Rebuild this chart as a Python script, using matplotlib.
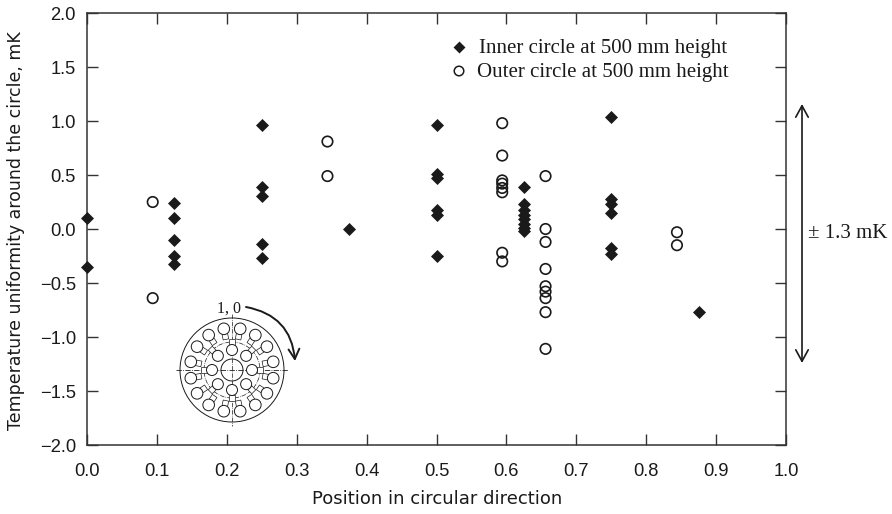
import numpy as np
import matplotlib
matplotlib.use('Agg')
import matplotlib.pyplot as plt
from matplotlib.patches import Circle, FancyArrowPatch, Rectangle
from matplotlib.transforms import Affine2D

# inner circle data
inner_x = [0.0, 0.0,
           0.125, 0.125, 0.125, 0.125, 0.125,
           0.25, 0.25, 0.25, 0.25, 0.25,
           0.375,
           0.5, 0.5, 0.5, 0.5, 0.5, 0.5,
           0.625, 0.625, 0.625, 0.625, 0.625, 0.625, 0.625, 0.625,
           0.75, 0.75, 0.75, 0.75, 0.75, 0.75,
           0.875]
inner_y = [0.10, -0.35,
           0.24, 0.10, -0.10, -0.25, -0.32,
           0.96, 0.39, 0.31, -0.14, -0.27,
           0.0,
           0.96, 0.51, 0.47, 0.18, 0.13, -0.25,
           0.39, 0.23, 0.18, 0.13, 0.09, 0.05, 0.01, -0.02,
           1.04, 0.28, 0.23, 0.15, -0.18, -0.23,
           -0.77]

# outer circle data
outer_x = [0.094, 0.094,
           0.344, 0.344,
           0.594, 0.594, 0.594, 0.594, 0.594, 0.594, 0.594, 0.594,
           0.656, 0.656, 0.656, 0.656, 0.656, 0.656, 0.656, 0.656, 0.656,
           0.844, 0.844]
outer_y = [0.25, -0.64,
           0.81, 0.49,
           0.98, 0.68, 0.45, 0.42, 0.38, 0.34, -0.22, -0.30,
           0.49, 0.0, -0.12, -0.37, -0.53, -0.58, -0.64, -0.77, -1.11,
           -0.03, -0.15]

x_ticks = [0.0, 0.1, 0.2, 0.3, 0.4, 0.5, 0.6, 0.7, 0.8, 0.9, 1.0]
y_ticks = [-2.0, -1.5, -1.0, -0.5, 0.0, 0.5, 1.0, 1.5, 2.0]
y_labels = ['\u22122.0', '\u22121.5', '\u22121.0', '\u22120.5', '0.0', '0.5', '1.0', '1.5', '2.0']

W, H = 892, 514
ink = '#1a1a1a'
line = '#333333'
sans = 'Liberation Sans'
serif = 'Liberation Serif'

fig = plt.figure(figsize=(W / 100, H / 100), dpi=100)
ax = fig.add_axes([87 / W, 1 - 445 / H, 699 / W, 432 / H])
ax.set_xlim(0, 1)
ax.set_ylim(-2, 2)

ax.scatter(inner_x, inner_y, marker='D', s=44, color=ink, linewidths=0, zorder=4, clip_on=False)
ax.scatter(outer_x, outer_y, marker='o', s=57, facecolors='none', edgecolors=ink, linewidths=1.2, zorder=4)

ax.set_xticks(x_ticks)
ax.set_yticks(y_ticks)
ax.set_yticklabels(y_labels)
ax.tick_params(direction='in', length=8, width=1.0, color=line, top=True, right=True,
               labelsize=13.2, labelcolor=ink)
ax.tick_params(axis='x', pad=13)
ax.tick_params(axis='y', pad=8)
for lab in ax.get_xticklabels() + ax.get_yticklabels():
    lab.set_fontfamily(sans)
for sp in ax.spines.values():
    sp.set_linewidth(1.1)
    sp.set_color(line)

fig.text(16 / W, 1 - 231 / H, 'Temperature uniformity around the circle, mK', rotation=90,
         ha='center', va='center', family='DejaVu Sans', fontsize=12.5, color=ink)
fig.text(437 / W, 1 - 499 / H, 'Position in circular direction', ha='center', va='center',
         family='DejaVu Sans', fontsize=13, color=ink)

# legend is hand placed in the original
fig.text(479 / W, 1 - 49 / H, 'Inner circle at 500 mm height', ha='left', va='center',
         family=serif, fontsize=15, color=ink)
fig.text(477 / W, 1 - 73 / H, 'Outer circle at 500 mm height', ha='left', va='center',
         family=serif, fontsize=15, color=ink)
lg = fig.add_axes([0, 0, 1, 1], facecolor='none')
lg.set_xlim(0, W)
lg.set_ylim(H, 0)
lg.axis('off')
lg.scatter([459], [47], marker='D', s=37, color=ink, linewidths=0)
lg.scatter([459], [71], marker='o', s=47, facecolors='none', edgecolors=ink, linewidths=1.1)

# +/- range arrow on the right
lg.add_patch(FancyArrowPatch((802, 104), (802, 363), arrowstyle='<->,head_length=0.55,head_width=0.3',
                             mutation_scale=15, linewidth=1.2, color=ink, shrinkA=0, shrinkB=0))
lg.text(808, 233, '\u00b1 1.3 mK', ha='left', va='center', family=serif, fontsize=15, color=ink)

# cross-section sketch, pixel units around its centre
cx, cy = 232, 370
lw = 0.7
lg.add_patch(Circle((cx, cy), 52, fill=False, ec=ink, lw=lw))
lg.add_patch(Circle((cx, cy), 11, fill=False, ec=ink, lw=lw))
lg.add_patch(Circle((cx, cy), 28, fill=False, ec=ink, lw=0.5, ls='-.'))
lg.plot([cx - 56, cx + 56], [cy, cy], color=ink, lw=0.6, ls='-.')
lg.plot([cx, cx], [cy - 56, cy + 56], color=ink, lw=0.5, ls='-.')

for a in np.deg2rad(np.arange(11.25, 360, 22.5)):
    s, c = np.sin(a), np.cos(a)
    lg.add_patch(Circle((cx + 42 * s, cy - 42 * c), 5.8, fc='white', ec=ink, lw=lw, zorder=3))
    rect = Rectangle((-2.8, -2.8), 5.6, 5.6, fc='white', ec=ink, lw=0.5, zorder=2)
    rect.set_transform(Affine2D().rotate(a).translate(cx + 34 * s, cy - 34 * c) + lg.transData)
    lg.add_patch(rect)
for a in np.deg2rad(np.arange(0, 360, 45)):
    s, c = np.sin(a), np.cos(a)
    lg.add_patch(Circle((cx + 20 * s, cy - 20 * c), 5.5, fc='white', ec=ink, lw=lw, zorder=3))
    rect = Rectangle((-2.8, -2.8), 5.6, 5.6, fc='white', ec=ink, lw=0.5, zorder=2)
    rect.set_transform(Affine2D().rotate(a).translate(cx + 28 * s, cy - 28 * c) + lg.transData)
    lg.add_patch(rect)

lg.text(229, 309, '1, 0', ha='center', va='center', family=serif, fontsize=11.5, color=ink)
lg.add_patch(FancyArrowPatch((246, 307), (295, 361), connectionstyle='arc3,rad=-0.38',
                             arrowstyle='->,head_length=0.55,head_width=0.3',
                             mutation_scale=13, linewidth=1.4, color=ink, shrinkA=0, shrinkB=0))

fig.savefig('out.png', dpi=100)
